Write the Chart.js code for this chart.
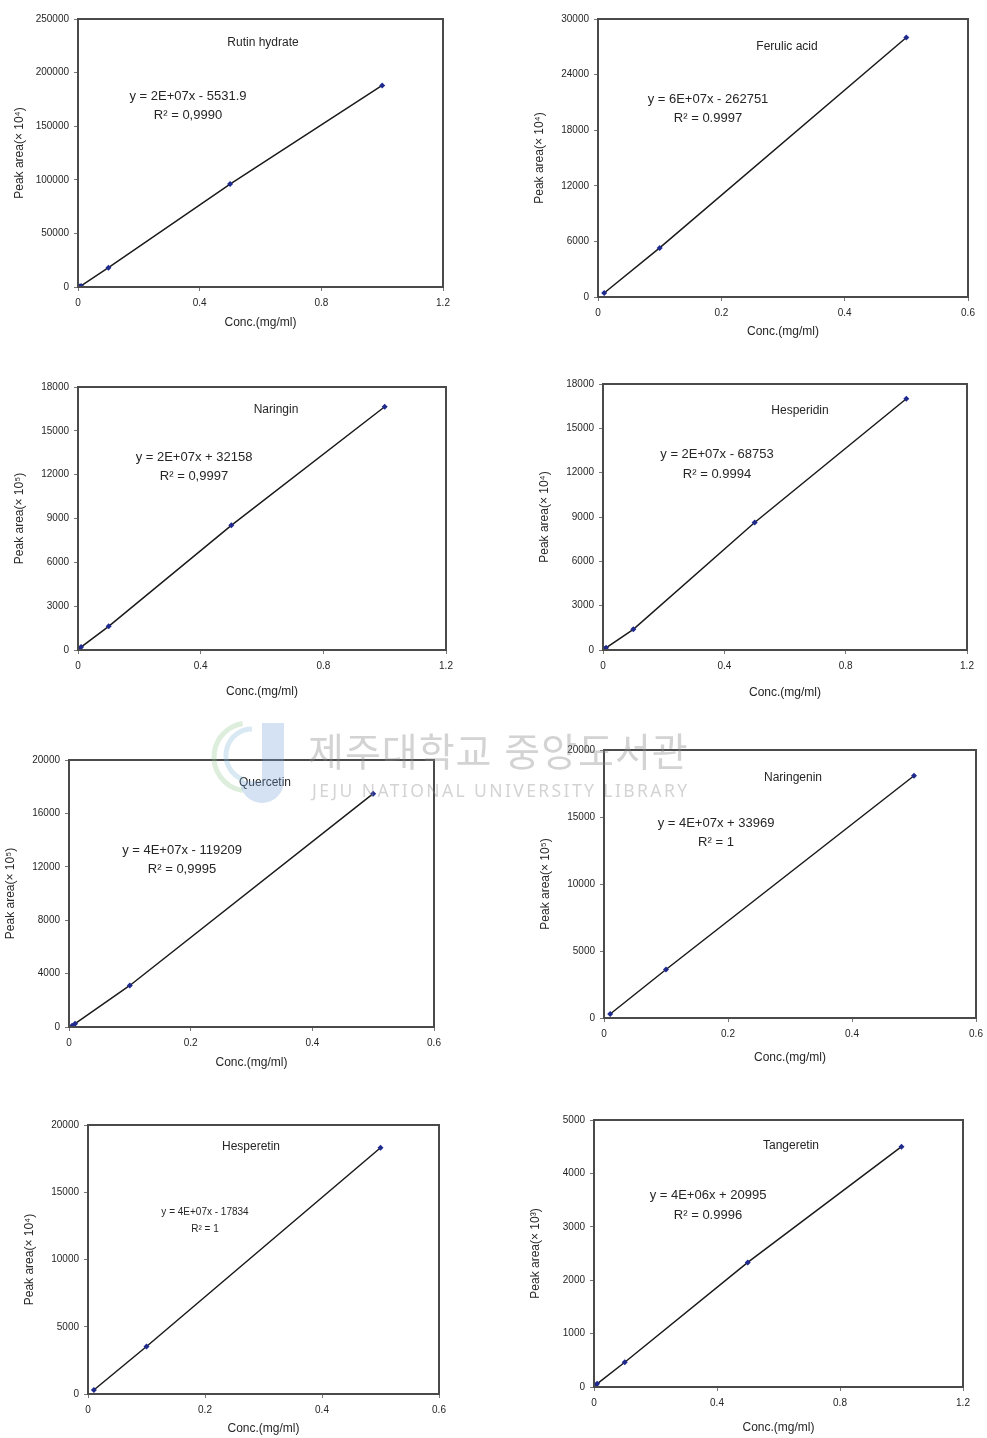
<!DOCTYPE html>
<html lang="ko">
<head>
  <meta charset="UTF-8" />
  <title>Calibration curves</title>
  <script src="https://cdn.jsdelivr.net/npm/chart.js"></script>
  <style>
    body { margin: 0; background: #fff; width: 987px; height: 1438px; position: relative; overflow: hidden; }
    canvas { position: absolute; }
    .wm { position: absolute; color: rgba(140,140,140,0.38); font-family: "Noto Sans CJK KR", sans-serif; pointer-events: none; white-space: nowrap; z-index: 2; }
  </style>
</head>
<body>
  <canvas id="logo" width="100" height="110" style="left:200px; top:695px; z-index:2;"></canvas>
  <div class="wm" style="left:308px; top:721px; font-size:39px; letter-spacing:1px;">제주대학교 중앙도서관</div>
  <div class="wm" style="left:312px; top:778px; font-size:17.5px; letter-spacing:2.4px; font-family:'Noto Sans',sans-serif;">JEJU NATIONAL UNIVERSITY LIBRARY</div>

  <script>
    // concentrations (mg/ml) and peak areas
    const rutinX = [0.005, 0.01, 0.1, 0.5, 1.0];
    const rutinY = [400, 1000, 18000, 96000, 188000];
    const ferulicX = [0.01, 0.1, 0.5];
    const ferulicY = [430, 5300, 28000];
    const naringinX = [0.005, 0.01, 0.1, 0.5, 1.0];
    const naringinY = [80, 200, 1620, 8530, 16650];
    const hesperidinX = [0.005, 0.01, 0.1, 0.5, 1.0];
    const hesperidinY = [60, 150, 1400, 8630, 17000];
    const quercetinX = [0.005, 0.01, 0.1, 0.5];
    const quercetinY = [100, 250, 3110, 17480];
    const naringeninX = [0.01, 0.1, 0.5];
    const naringeninY = [300, 3620, 18080];
    const hesperetinX = [0.01, 0.1, 0.5];
    const hesperetinY = [300, 3530, 18310];
    const tangeretinX = [0.005, 0.01, 0.1, 0.5, 1.0];
    const tangeretinY = [30, 60, 463, 2333, 4500];

    // box = plot frame on the page [left, top, right, bottom]
    const charts = [
      { xs: rutinX, ys: rutinY, box: [78, 16, 443, 287], xMax: 1.2, xStep: 0.4, yMax: 250000, yStep: 50000, exp: '⁴', xt: 36,
        notes: [['Rutin hydrate', 263, 43, 12], ['y = 2E+07x - 5531.9', 188, 96, 13], ['R² = 0,9990', 188, 115, 13]] },
      { xs: ferulicX, ys: ferulicY, box: [598, 16, 968, 297], xMax: 0.6, xStep: 0.2, yMax: 30000, yStep: 6000, exp: '⁴', xt: 35,
        notes: [['Ferulic acid', 787, 47, 12], ['y = 6E+07x - 262751', 708, 99, 13], ['R² = 0.9997', 708, 118, 13]] },
      { xs: naringinX, ys: naringinY, box: [78, 384, 446, 650], xMax: 1.2, xStep: 0.4, yMax: 18000, yStep: 3000, exp: '⁵', xt: 42,
        notes: [['Naringin', 276, 410, 12], ['y = 2E+07x + 32158', 194, 457, 13], ['R² = 0,9997', 194, 476, 13]] },
      { xs: hesperidinX, ys: hesperidinY, box: [603, 381, 967, 650], xMax: 1.2, xStep: 0.4, yMax: 18000, yStep: 3000, exp: '⁴', xt: 43,
        notes: [['Hesperidin', 800, 411, 12], ['y = 2E+07x - 68753', 717, 454, 13], ['R² = 0.9994', 717, 474, 13]] },
      { xs: quercetinX, ys: quercetinY, box: [69, 757, 434, 1027], xMax: 0.6, xStep: 0.2, yMax: 20000, yStep: 4000, exp: '⁵', xt: 36,
        notes: [['Quercetin', 265, 783, 12], ['y = 4E+07x - 119209', 182, 850, 13], ['R² = 0,9995', 182, 869, 13]] },
      { xs: naringeninX, ys: naringeninY, box: [604, 747, 976, 1018], xMax: 0.6, xStep: 0.2, yMax: 20000, yStep: 5000, exp: '⁵', xt: 40,
        notes: [['Naringenin', 793, 778, 12], ['y = 4E+07x + 33969', 716, 823, 13], ['R² = 1', 716, 842, 13]] },
      { xs: hesperetinX, ys: hesperetinY, box: [88, 1122, 439, 1394], xMax: 0.6, xStep: 0.2, yMax: 20000, yStep: 5000, exp: '⁴', xt: 35,
        notes: [['Hesperetin', 251, 1147, 12], ['y = 4E+07x - 17834', 205, 1212, 10], ['R² = 1', 205, 1229, 10]] },
      { xs: tangeretinX, ys: tangeretinY, box: [594, 1117, 963, 1387], xMax: 1.2, xStep: 0.4, yMax: 5000, yStep: 1000, exp: '³', xt: 41,
        notes: [['Tangeretin', 791, 1146, 12], ['y = 4E+06x + 20995', 708, 1195, 13], ['R² = 0.9996', 708, 1215, 13]] }
    ];

    const FONT = '"Liberation Sans", Arial, sans-serif';
    const INK = '#262626';
    const YW = 70, PADT = 8, PADR = 14;

    // faint library logo behind the watermark text
    (function () {
      const g = document.getElementById('logo').getContext('2d');
      g.globalAlpha = 0.3;
      g.lineWidth = 5;
      g.strokeStyle = '#8fc88a';
      g.beginPath(); g.arc(48, 62, 34, Math.PI * 0.55, Math.PI * 1.45); g.stroke();
      g.strokeStyle = '#7fb6d8';
      g.beginPath(); g.arc(52, 60, 26, Math.PI * 0.6, Math.PI * 1.5); g.stroke();
      g.fillStyle = '#6f9fd6';
      g.fillRect(62, 28, 22, 58);
      g.beginPath(); g.arc(62, 86, 22, 0, Math.PI); g.fill();
    })();

    // frame around the plot area plus the text placed inside it
    const framePlugin = {
      id: 'frame',
      afterDraw(chart, args, opts) {
        const { ctx, chartArea: a } = chart;
        ctx.save();
        ctx.strokeStyle = '#4a4a4a';
        ctx.lineWidth = 2;
        ctx.strokeRect(a.left, a.top, a.right - a.left, a.bottom - a.top);
        ctx.fillStyle = INK;
        ctx.textAlign = 'center';
        ctx.textBaseline = 'middle';
        opts.notes.forEach(([t, x, y, s]) => {
          ctx.font = s + 'px ' + FONT;
          ctx.fillText(t, x - opts.ox, y - opts.oy);
        });
        ctx.restore();
      }
    };

    charts.forEach(c => {
      const [L, T, R, B] = c.box;
      const xh = c.xt + 11;
      const cv = document.createElement('canvas');
      const w = R - L + YW + PADR, h = B - T + PADT + xh;
      const left = L - YW, top = T - PADT;
      cv.style.left = left + 'px';
      cv.style.top = top + 'px';
      cv.style.width = w + 'px';
      cv.style.height = h + 'px';
      cv.width = w; cv.height = h;
      document.body.appendChild(cv);

      new Chart(cv, {
        type: 'scatter',
        data: {
          datasets: [{
            data: c.xs.map((x, i) => ({ x: x, y: c.ys[i] })),
            showLine: true,
            borderColor: '#1a1a1a',
            borderWidth: 1.5,
            pointStyle: 'rectRot',
            pointRadius: 3,
            pointBackgroundColor: '#1f2a8f',
            pointBorderColor: '#1f2a8f',
            pointBorderWidth: 0
          }]
        },
        options: {
          responsive: false,
          animation: false,
          layout: { padding: { top: PADT, right: PADR, left: 0, bottom: 0 } },
          plugins: {
            legend: { display: false },
            tooltip: { enabled: false },
            frame: { notes: c.notes, ox: left, oy: top }
          },
          scales: {
            x: {
              type: 'linear', min: 0, max: c.xMax,
              afterFit: s => { s.height = xh; },
              grid: { drawOnChartArea: false, tickLength: 4, color: '#777' },
              border: { display: false },
              ticks: {
                stepSize: c.xStep, padding: 6, color: INK,
                font: { family: FONT, size: 10 },
                callback: v => v === 0 ? '0' : v.toFixed(1)
              },
              title: { display: true, text: 'Conc.(mg/ml)', color: INK, font: { family: FONT, size: 12 }, padding: 4 }
            },
            y: {
              type: 'linear', min: 0, max: c.yMax,
              afterFit: s => { s.width = YW; },
              grid: { drawOnChartArea: false, tickLength: 4, color: '#777' },
              border: { display: false },
              ticks: {
                stepSize: c.yStep, padding: 5, color: INK,
                font: { family: FONT, size: 10 },
                callback: v => String(v)
              },
              title: { display: true, text: 'Peak area(× 10' + c.exp + ')', color: INK, font: { family: FONT, size: 12 }, padding: 4 }
            }
          }
        },
        plugins: [framePlugin]
      });
    });
  </script>
</body>
</html>
